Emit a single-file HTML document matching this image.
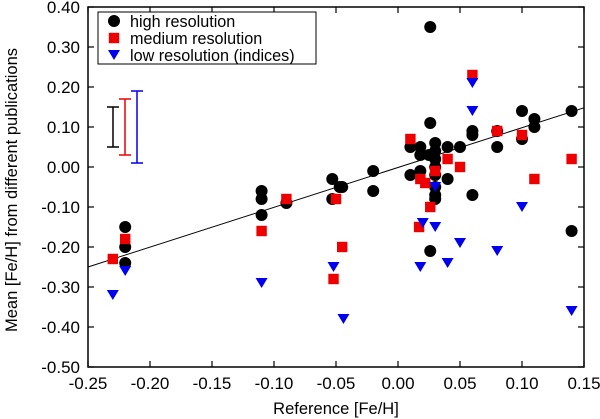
<!DOCTYPE html>
<html><head><meta charset="utf-8"><style>
html,body{margin:0;padding:0;background:#fff;}
svg{display:block;font-family:"Liberation Sans",Arial,sans-serif;}
</style></head><body>
<svg id="chart" width="600" height="419" viewBox="0 0 600 419" xmlns="http://www.w3.org/2000/svg">
</svg>
<script>
const xTicks = [-0.25,-0.20,-0.15,-0.10,-0.05,0.00,0.05,0.10,0.15];
const yTicks = [0.40,0.30,0.20,0.10,0.00,-0.10,-0.20,-0.30,-0.40,-0.50];
const highX = [-0.22,-0.22,-0.22,-0.11,-0.11,-0.11,-0.09,-0.053,-0.053,-0.047,-0.045,-0.02,-0.02,0.01,0.01,0.018,0.018,0.018,0.026,0.026,0.025,0.03,0.03,0.03,0.03,0.03,0.03,0.03,0.03,0.04,0.04,0.05,0.06,0.06,0.06,0.08,0.08,0.10,0.10,0.11,0.11,0.14,0.14,0.026];
const highY = [-0.15,-0.20,-0.24,-0.06,-0.08,-0.12,-0.09,-0.03,-0.08,-0.05,-0.05,-0.01,-0.06,0.05,-0.02,0.05,0.03,-0.01,0.35,0.11,0.03,0.06,0.04,0.02,0.00,-0.02,-0.05,-0.07,-0.08,0.05,-0.03,0.05,0.09,0.08,-0.07,0.09,0.05,0.14,0.07,0.12,0.10,0.14,-0.16,-0.21];
const medX = [-0.23,-0.22,-0.11,-0.09,-0.052,-0.05,-0.045,0.01,0.017,0.018,0.022,0.026,0.03,0.04,0.05,0.06,0.08,0.10,0.11,0.14];
const medY = [-0.23,-0.18,-0.16,-0.08,-0.28,-0.08,-0.20,0.07,-0.15,-0.03,-0.04,-0.10,-0.01,0.02,0.00,0.23,0.09,0.08,-0.03,0.02];
const lowX = [-0.23,-0.22,-0.11,-0.052,-0.044,0.018,0.02,0.03,0.03,0.04,0.05,0.06,0.06,0.08,0.10,0.14];
const lowY = [-0.32,-0.26,-0.29,-0.25,-0.38,-0.25,-0.14,-0.15,-0.05,-0.24,-0.19,0.21,0.14,-0.21,-0.10,-0.36];
const errLow = [0.05,0.03,0.01];
const errHigh = [0.15,0.17,0.19];
const fitLine = [[-0.25,-0.25],[0.15,0.148]];

const NS="http://www.w3.org/2000/svg";
const svg=document.getElementById('chart');
const X0=88,X1=584,Y0=7,Y1=367;
const sx=v=>X0+(v+0.25)/0.40*(X1-X0);
const sy=v=>Y1-(v+0.5)/0.90*(Y1-Y0);
function mk(tag,attrs,parent){const e=document.createElementNS(NS,tag);for(const k in attrs)e.setAttribute(k,attrs[k]);(parent||svg).appendChild(e);return e;}

xTicks.forEach(t=>{
  const x=sx(t);
  const a=mk('line',{x1:x,x2:x,y1:Y1,y2:Y1-6,stroke:'#000','stroke-width':1.2});
  
  
  mk('line',{x1:x,x2:x,y1:Y0,y2:Y0+6,stroke:'#000','stroke-width':1.2});
  const l=mk('text',{x:x,y:Y1+22,'text-anchor':'middle','font-size':17});
  l.textContent=t.toFixed(2);
  
  
});
yTicks.forEach(t=>{
  const y=sy(t);
  const a=mk('line',{x1:X0,x2:X0+6,y1:y,y2:y,stroke:'#000','stroke-width':1.2});
  
  
  mk('line',{x1:X1,x2:X1-6,y1:y,y2:y,stroke:'#000','stroke-width':1.2});
  const l=mk('text',{x:X0-8,y:y+6,'text-anchor':'end','font-size':17});
  l.textContent=t.toFixed(2);
  
  
});
const frame=mk('rect',{x:X0,y:Y0,width:X1-X0,height:Y1-Y0,fill:'none',stroke:'#000','stroke-width':1.5});



const xt=mk('text',{x:(X0+X1)/2,y:414,'text-anchor':'middle','font-size':16.5});
xt.textContent='Reference [Fe/H]';


const yt=mk('text',{x:0,y:0,'text-anchor':'middle','font-size':16.5,transform:'translate(17,190) rotate(-90)'});
yt.textContent='Mean [Fe/H] from different publications';



const fl=mk('line',{x1:sx(fitLine[0][0]),y1:sy(fitLine[0][1]),x2:sx(fitLine[1][0]),y2:sy(fitLine[1][1]),stroke:'#000','stroke-width':1});



const errColors=['#000','#e00','#00e'];
const errPx=[113,125,137];
errLow.forEach((lo,i)=>{
  const g=mk('g',{stroke:errColors[i],'stroke-width':1.5});
  
  
  const x=errPx[i];
  mk('line',{x1:x,x2:x,y1:sy(lo),y2:sy(errHigh[i])},g);
  mk('line',{x1:x-6,x2:x+6,y1:sy(lo),y2:sy(lo)},g);
  mk('line',{x1:x-6,x2:x+6,y1:sy(errHigh[i]),y2:sy(errHigh[i])},g);
});

function circle(x,y,g){return mk('circle',{cx:x,cy:y,r:6,fill:'#000'},g);}
function square(x,y,g){return mk('rect',{x:x-5.2,y:y-5.2,width:10.4,height:10.4,fill:'#e00'},g);}
function tri(x,y,g){return mk('polygon',{points:`${x-6},${y-5} ${x+6},${y-5} ${x},${y+5}`,fill:'#00e'},g);}

const gh=mk('g',{});


highX.forEach((v,i)=>{const c=circle(sx(v),sy(highY[i]),gh);
  
  });
const gm=mk('g',{});


medX.forEach((v,i)=>{const c=square(sx(v),sy(medY[i]),gm);
  
  });
const gl=mk('g',{});


lowX.forEach((v,i)=>{const c=tri(sx(v),sy(lowY[i]),gl);
  
  });

const lg=mk('g',{});


mk('rect',{x:98,y:12,width:218,height:52,fill:'#fff',stroke:'#000','stroke-width':1},lg);
const names=['high resolution','medium resolution','low resolution (indices)'];
const ys=[21,38,55];
names.forEach((n,i)=>{
  const e=mk('g',{},lg);
  
  
  if(i==0)circle(114,ys[i],e);else if(i==1)square(114,ys[i],e);else tri(114,ys[i],e);
  const t=mk('text',{x:130,y:ys[i]+6,'font-size':16.2},e);
  t.textContent=n;
});
</script>
</body></html>
